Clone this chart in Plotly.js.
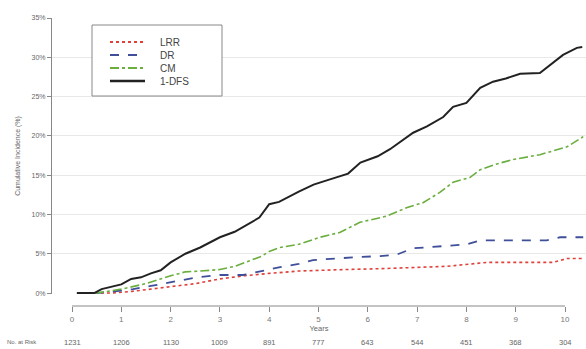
<!DOCTYPE html>
<html>
<head>
<meta charset="utf-8">
<script src="https://cdn.plot.ly/plotly-3.0.1.min.js"></script>
<style>html,body{margin:0;padding:0;background:#fff;}#chart{width:586px;height:349px;}</style>
</head>
<body>
<div id="chart"></div>
<script>
// ---- data ----
var seriesNames = ['LRR', 'DR', 'CM', '1-DFS'];

var lrrYears = [0.1,0.8,1.2,1.6,2.0,2.5,3.0,3.5,4.0,4.22,4.6,5.58,6.25,7.6,8.42,9.76,10.04,10.37];
var lrrValues = [0,0,0.2,0.5,0.8,1.2,1.8,2.2,2.5,2.6,2.8,3.0,3.1,3.4,3.9,3.9,4.4,4.4];

var drYears = [0.1,0.5,1.0,1.24,1.6,2.0,2.53,3.0,3.47,4.0,4.22,4.6,4.89,5.84,6.25,6.59,6.92,7.6,8.0,8.28,9.63,9.9,10.37];
var drValues = [0,0,0.3,0.5,0.9,1.4,2.0,2.3,2.3,3.0,3.3,3.7,4.2,4.6,4.7,4.9,5.7,6.0,6.2,6.7,6.7,7.1,7.1];

var cmYears = [0.1,0.5,1.0,1.5,2.0,2.3,2.6,3.0,3.3,3.5,3.85,4.0,4.22,4.6,5.03,5.43,5.84,6.39,6.8,7.12,7.46,7.73,8.07,8.28,8.6,8.95,9.49,10.04,10.37];
var cmValues = [0,0,0.5,1.2,2.2,2.7,2.8,3.0,3.4,3.9,4.7,5.3,5.8,6.2,7.1,7.7,9.0,9.8,10.9,11.5,12.8,14.1,14.7,15.7,16.4,17.0,17.6,18.6,19.9];

var dfsYears = [0.1,0.45,0.6,0.8,1.0,1.2,1.4,1.6,1.8,2.0,2.3,2.6,3.0,3.3,3.6,3.8,4.0,4.2,4.6,4.9,5.2,5.6,5.85,6.2,6.45,6.7,6.92,7.2,7.53,7.73,8.0,8.28,8.54,8.8,9.09,9.49,9.7,9.96,10.24,10.35];
var dfsValues = [0,0,0.5,0.8,1.1,1.8,2.0,2.5,2.9,3.9,5.0,5.8,7.1,7.8,8.9,9.6,11.3,11.6,12.9,13.8,14.4,15.2,16.6,17.4,18.3,19.4,20.4,21.2,22.4,23.7,24.2,26.1,26.9,27.3,27.9,28.0,29.0,30.3,31.2,31.3];

var yTickVals = [0,5,10,15,20,25,30,35];
var yTickText = ['0%','5%','10%','15%','20%','25%','30%','35%'];
var xTickVals = [0,1,2,3,4,5,6,7,8,9,10];
var atRiskYears = [0,1,2,3,4,5,6,7,8,9,10];
var atRiskCounts = ['1231','1206','1130','1009','891','777','643','544','451','368','304'];

// ---- styles ----
var styles = [
  {color:'#e0403a', dash:'dot', width:1.6},
  {color:'#3f4f9a', dash:'dash', width:1.8},
  {color:'#6aae3e', dash:'dashdot', width:1.6},
  {color:'#222222', dash:'solid', width:2.0}
];
var xs = [lrrYears, drYears, cmYears, dfsYears];
var ys = [lrrValues, drValues, cmValues, dfsValues];

var traces = seriesNames.map(function(n, i){
  return {x: xs[i], y: ys[i], type:'scatter', mode:'lines', name:n,
    line:{color:styles[i].color, dash:styles[i].dash, width:styles[i].width, shape:'linear'},
    showlegend:false, hoverinfo:'skip'};
});

var fontFam = 'Liberation Sans, Arial, sans-serif';
var L = 52, T = 18, W = 534, H = 288;
function px2x(p){ return (p - L) / W; }
function py2y(p){ return (T + H - p) / H; }

var shapes = [];
var annotations = [];
// x axis line (detached)
shapes.push({type:'line', xref:'x', yref:'paper', x0:0, x1:10, y0:0, y1:0, line:{color:'#888', width:1}});
// legend box
shapes.push({type:'rect', xref:'paper', yref:'paper', x0:px2x(92), x1:px2x(222), y0:py2y(96), y1:py2y(25),
  line:{color:'#888', width:1}, fillcolor:'rgba(255,255,255,1)', layer:'above'});
var rowPx = [42, 55, 68, 81];
seriesNames.forEach(function(n, i){
  shapes.push({type:'line', xref:'paper', yref:'paper', x0:px2x(110), x1:px2x(145), y0:py2y(rowPx[i]), y1:py2y(rowPx[i]),
    line:{color:styles[i].color, dash:styles[i].dash, width:styles[i].width + (i===3?0.6:0.2)}, layer:'above'});
  annotations.push({xref:'paper', yref:'paper', x:px2x(158), y:py2y(rowPx[i]), text:n, showarrow:false,
    xanchor:'left', yanchor:'middle', font:{family:fontFam, size:10, color:'#444'}});
});
// number at risk
annotations.push({xref:'paper', yref:'paper', x:px2x(22), y:py2y(342), text:'No. at Risk', showarrow:false,
  xanchor:'center', yanchor:'middle', font:{family:fontFam, size:6, color:'#666'}});
atRiskYears.forEach(function(yr, i){
  annotations.push({xref:'x', yref:'paper', x:yr, y:py2y(342), text:atRiskCounts[i], showarrow:false,
    xanchor:'center', yanchor:'middle', font:{family:fontFam, size:7.5, color:'#666'}});
});

var layout = {
  width:586, height:349,
  margin:{l:L, r:0, t:T, b:349 - T - H, pad:0},
  paper_bgcolor:'#fff', plot_bgcolor:'#fff',
  showlegend:false,
  font:{family:fontFam, color:'#555'},
  xaxis:{
    range:[-0.406, 10.426], anchor:'free', position:0,
    tickvals:xTickVals, ticks:'outside', ticklen:5, tickcolor:'#888',
    tickfont:{size:8, color:'#777'}, showgrid:false, zeroline:false, showline:false,
    title:{text:'Years', font:{size:7.5, color:'#666'}, standoff:2}
  },
  yaxis:{
    domain:[12/288, 1], range:[-0.12, 35],
    tickvals:yTickVals, ticktext:yTickText, ticks:'outside', ticklen:4, tickcolor:'#888',
    tickfont:{size:7, color:'#666'}, showline:true, linecolor:'#888', linewidth:1,
    showgrid:true, gridcolor:'#e8e8e8', gridwidth:1, zeroline:false,
    title:{text:'Cumulative Incidence (%)', font:{size:7, color:'#666'}, standoff:10}
  },
  shapes:shapes,
  annotations:annotations
};

Plotly.newPlot('chart', traces, layout, {staticPlot:true, displayModeBar:false});
</script>
</body>
</html>
